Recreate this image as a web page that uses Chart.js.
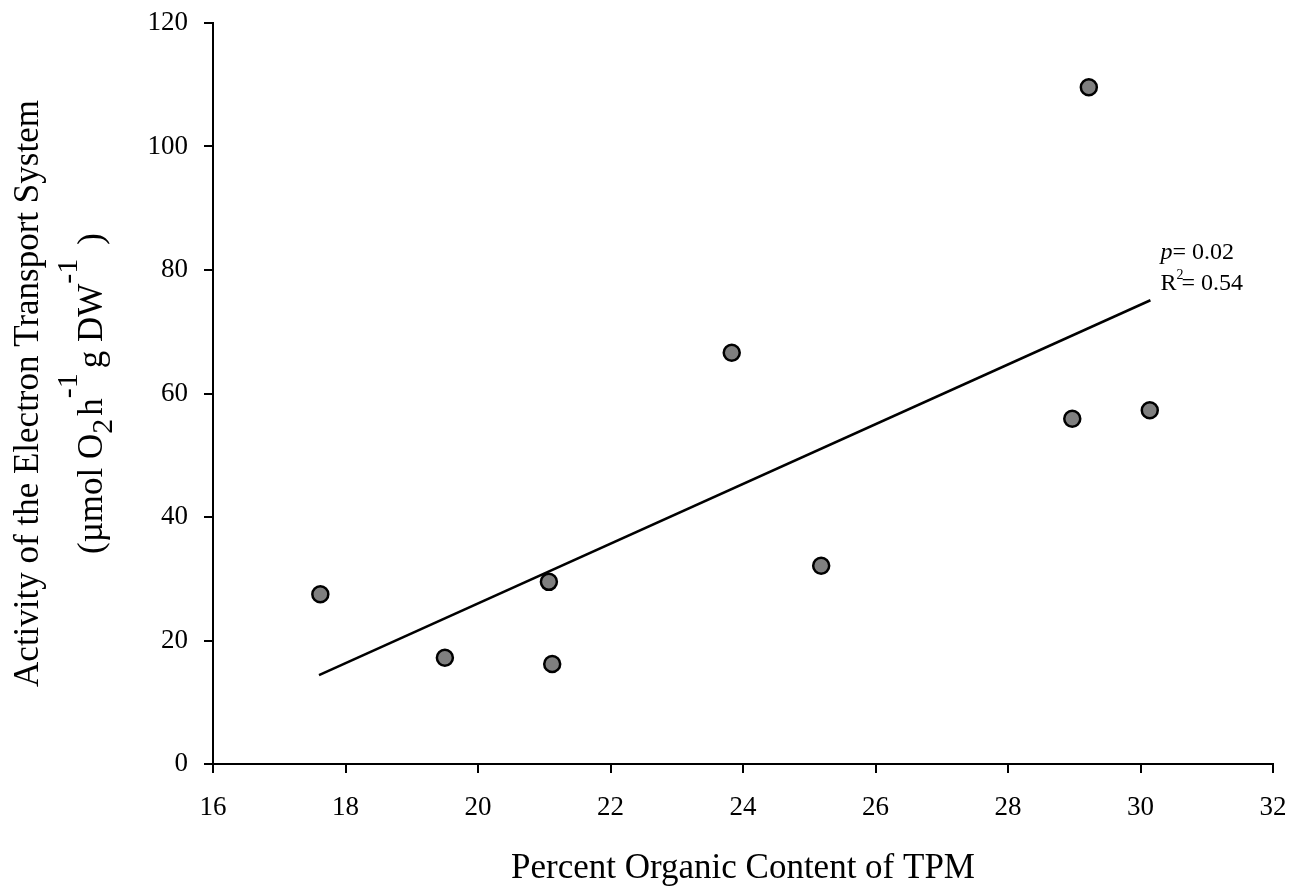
<!DOCTYPE html>
<html>
<head>
<meta charset="utf-8">
<script src="https://cdn.jsdelivr.net/npm/chart.js@4.4.1/dist/chart.umd.min.js"></script>
<style>
  html, body { margin: 0; padding: 0; background: #fff; }
  #wrap { width: 1295px; height: 890px; }
</style>
</head>
<body>
<div id="wrap"><canvas id="etsChart"></canvas></div>
<script>
// percent organic content of TPM vs ETS activity, one point per site
const organicPct = [17.62, 19.50, 21.07, 21.12, 23.83, 25.18, 28.97, 29.22, 30.14];
const etsActivity = [27.5, 17.2, 29.5, 16.2, 66.6, 32.1, 55.9, 109.6, 57.3];

// end points of the fitted regression line
const fitX = [17.6, 30.15];
const fitY = [14.4, 75.1];

const xTicks = [16, 18, 20, 22, 24, 26, 28, 30, 32];
const yTicks = [0, 20, 40, 60, 80, 100, 120];

const serif = "'Liberation Serif', 'Times New Roman', serif";

// y axis title with sub/superscripts, drawn rotated on the left
const yTitlePlugin = {
  id: 'yTitle',
  afterDraw(chart) {
    const ctx = chart.ctx;
    const area = chart.chartArea;
    const cy = (area.top + area.bottom) / 2;
    ctx.save();
    ctx.fillStyle = '#000';
    ctx.textBaseline = 'alphabetic';

    // parts: t = text, dy = baseline shift, gap = extra advance after it
    const drawLine = (parts, baseX) => {
      ctx.save();
      ctx.translate(baseX, cy);
      ctx.rotate(-Math.PI / 2);
      let total = 0;
      parts.forEach(p => {
        ctx.font = p.font;
        total += ctx.measureText(p.t).width + (p.gap || 0);
      });
      let x = -total / 2;
      parts.forEach(p => {
        ctx.font = p.font;
        ctx.fillText(p.t, x, p.dy || 0);
        x += ctx.measureText(p.t).width + (p.gap || 0);
      });
      ctx.restore();
    };

    const big = `35px ${serif}`;
    const small = `30px ${serif}`;
    drawLine([{ t: 'Activity of the Electron Transport System', font: big }], 38);
    drawLine([
      { t: '(\u00b5mol O', font: big },
      { t: '2', font: small, dy: 10, gap: 3 },
      { t: 'h', font: big },
      { t: '-1', font: small, dy: -25, gap: 5 },
      { t: 'g DW', font: big },
      { t: '-1', font: small, dy: -25, gap: 14 },
      { t: ')', font: big }
    ], 102);
    ctx.restore();
  }
};

// p value and R squared next to the fit line
const statsPlugin = {
  id: 'stats',
  afterDraw(chart) {
    const ctx = chart.ctx;
    const xs = chart.scales.x;
    const ys = chart.scales.y;
    const x = xs.getPixelForValue(fitX[1]) + 10;
    const y = ys.getPixelForValue(fitY[1]);
    ctx.save();
    ctx.fillStyle = '#000';
    ctx.textBaseline = 'alphabetic';
    ctx.font = `italic 24px ${serif}`;
    ctx.fillText('p', x, y - 41);
    let w = ctx.measureText('p').width;
    ctx.font = `24px ${serif}`;
    ctx.fillText('= 0.02', x + w, y - 41);
    ctx.fillText('R', x, y - 10);
    w = ctx.measureText('R').width;
    ctx.font = `14px ${serif}`;
    ctx.fillText('2', x + w, y - 21);
    ctx.font = `24px ${serif}`;
    ctx.fillText('= 0.54', x + w + 5, y - 10);
    ctx.restore();
  }
};

const points = organicPct.map((x, i) => ({ x: x, y: etsActivity[i] }));
const fitLine = fitX.map((x, i) => ({ x: x, y: fitY[i] }));

new Chart(document.getElementById('etsChart'), {
  type: 'scatter',
  data: {
    datasets: [
      {
        type: 'line',
        data: fitLine,
        borderColor: '#000',
        borderWidth: 2.5,
        pointRadius: 0,
        fill: false,
        order: 2
      },
      {
        data: points,
        backgroundColor: '#7f7f7f',
        borderColor: '#000',
        borderWidth: 2.5,
        pointRadius: 8,
        pointHoverRadius: 8,
        order: 1
      }
    ]
  },
  options: {
    responsive: true,
    maintainAspectRatio: false,
    animation: false,
    layout: { padding: { top: 23, right: 22, left: 0, bottom: 0 } },
    plugins: {
      legend: { display: false },
      tooltip: { enabled: false }
    },
    scales: {
      x: {
        type: 'linear',
        min: 16,
        max: 32,
        afterBuildTicks: s => { s.ticks = xTicks.map(v => ({ value: v })); },
        afterFit: s => {
          s.height = 126;
          s.paddingLeft = 0;
          s.paddingRight = 0;
        },
        border: { display: true, color: '#000', width: 2 },
        grid: { display: true, drawOnChartArea: false, drawTicks: true, tickLength: 9, color: '#000', lineWidth: 2 },
        ticks: { color: '#000', font: { family: serif, size: 27 }, padding: 19 },
        title: {
          display: true,
          text: 'Percent Organic Content of TPM',
          color: '#000',
          font: { family: serif, size: 35 },
          padding: { top: 20, bottom: 0 }
        }
      },
      y: {
        type: 'linear',
        min: 0,
        max: 120,
        afterBuildTicks: s => { s.ticks = yTicks.map(v => ({ value: v })); },
        afterFit: s => {
          s.width = 213;
          s.paddingTop = 0;
          s.paddingBottom = 0;
        },
        border: { display: true, color: '#000', width: 2 },
        grid: { display: true, drawOnChartArea: false, drawTicks: true, tickLength: 9, color: '#000', lineWidth: 2 },
        ticks: { color: '#000', font: { family: serif, size: 27 }, padding: 16 }
      }
    }
  },
  plugins: [yTitlePlugin, statsPlugin]
});
</script>
</body>
</html>
